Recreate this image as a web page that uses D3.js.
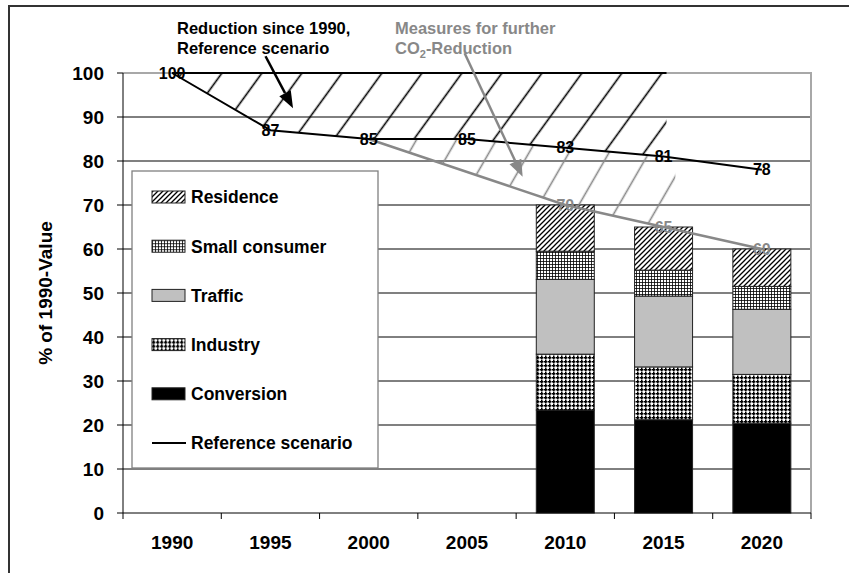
<!DOCTYPE html>
<meta charset="utf-8">
<style>
  html, body { margin: 0; padding: 0; background: #fff; overflow: hidden; }
  svg { display: block; font-family: "Liberation Sans", Arial, sans-serif; font-weight: bold; }
</style>
<body>
<script src="https://cdn.jsdelivr.net/npm/d3@7/dist/d3.min.js"></script>
<script>

  // ---- data ----
  var years = ["1990", "1995", "2000", "2005", "2010", "2015", "2020"];
  var refScenario = [100, 87, 85, 85, 83, 81, 78];
  var measureYears = ["2000", "2010", "2015", "2020"];
  var measureValues = [85, 70, 65, 60];

  var barYears = ["2010", "2015", "2020"];
  var sectors = ["Conversion", "Industry", "Traffic", "Small consumer", "Residence"];
  var conversion    = [23.4, 21.2, 20.4];
  var industry      = [12.7, 12.0, 11.1];
  var traffic       = [17.0, 16.1, 14.8];
  var smallConsumer = [6.4, 5.9, 5.2];
  var residence     = [10.5, 9.8, 8.5];

  var yTicks = [0, 10, 20, 30, 40, 50, 60, 70, 80, 90, 100];
  var legendItems = ["Residence", "Small consumer", "Traffic", "Industry", "Conversion", "Reference scenario"];

  var width = 849, height = 573;
  var plotL = 123, plotR = 811, plotT = 73, plotB = 513;

  var svg = d3.select("body").append("svg")
      .attr("width", width)
      .attr("height", height);

  var x = d3.scaleBand().domain(years).range([plotL, plotR])
      .paddingInner(0.41).paddingOuter(0.205);
  var y = d3.scaleLinear().domain([0, 100]).range([plotB, plotT]);
  var cx = function(d) { return x(d) + x.bandwidth() / 2; };
  // continuous year scale, for the annotation shapes
  var xYear = d3.scaleLinear().domain([1990, 2020]).range([cx("1990"), cx("2020")]);

  /* patterns */
  var defs = svg.append("defs");

  var p = defs.append("pattern").attr("id", "pRes")
      .attr("patternUnits", "userSpaceOnUse").attr("width", 5).attr("height", 5);
  p.append("rect").attr("width", 5).attr("height", 5).attr("fill", "#fff");
  p.append("path").attr("d", "M-1,1 l2,-2 M0,5 l5,-5 M4,6 l2,-2")
      .attr("stroke", "#000").attr("stroke-width", 1.3);

  p = defs.append("pattern").attr("id", "pSmall")
      .attr("patternUnits", "userSpaceOnUse").attr("width", 3).attr("height", 3);
  p.append("rect").attr("width", 3).attr("height", 3).attr("fill", "#fff");
  p.append("path").attr("d", "M0,0.5 H3 M0.5,0 V3")
      .attr("stroke", "#000").attr("stroke-width", 0.8);

  p = defs.append("pattern").attr("id", "pInd")
      .attr("patternUnits", "userSpaceOnUse").attr("width", 4).attr("height", 4);
  p.append("rect").attr("width", 4).attr("height", 4).attr("fill", "#fff");
  p.append("path").attr("d", "M1,0 h1.5 v1 h1 v1.5 h-1 v1 h-1.5 v-1 h-1 v-1.5 h1 z").attr("fill", "#000");

  var fills = {
    "Residence": "url(#pRes)",
    "Small consumer": "url(#pSmall)",
    "Traffic": "#c0c0c0",
    "Industry": "url(#pInd)",
    "Conversion": "#000"
  };

  function hatch(id, color, spacing, angle, px, py) {
    var h = defs.append("pattern").attr("id", id)
        .attr("patternUnits", "userSpaceOnUse")
        .attr("width", spacing).attr("height", 400)
        .attr("patternTransform", "translate(" + px + "," + py + ") rotate(" + angle + ") translate(" + (-spacing / 2) + ",0)");
    h.append("line").attr("x1", spacing / 2).attr("x2", spacing / 2)
        .attr("y1", 0).attr("y2", 400)
        .attr("stroke", color).attr("stroke-width", 1.6);
  }
  hatch("hBlack", "#000", 40 * Math.cos(36 * Math.PI / 180), 36, 222, 73);
  hatch("hGrey", "#888", 40 * Math.cos(30 * Math.PI / 180), 30, 675, 177);

  /* outer frame */
  svg.append("path").attr("d", "M9,573 V6 H849")
      .attr("fill", "none").attr("stroke", "#333").attr("stroke-width", 2);

  /* gridlines */
  svg.append("g").selectAll("line")
      .data(yTicks.filter(function(d) { return d > 0 && d < 100; }))
      .enter().append("line")
      .attr("x1", plotL).attr("x2", plotR)
      .attr("y1", d => y(d)).attr("y2", d => y(d))
      .attr("stroke", d => (d % 30 == 20) ? "#808080" : "#000")
      .attr("stroke-width", d => (d % 30 == 20) ? 2 : 1);

  // plot area border top/right
  svg.append("path")
      .attr("d", "M" + plotL + "," + y(100) + " H" + plotR + " V" + y(0))
      .attr("fill", "none").attr("stroke", "#a8a8a8").attr("stroke-width", 2);

  /* stacked bars */
  var table = barYears.map(function(yr, i) {
    return { year: yr, "Conversion": conversion[i], "Industry": industry[i], "Traffic": traffic[i],
             "Small consumer": smallConsumer[i], "Residence": residence[i] };
  });
  var stack = d3.stack().keys(sectors)(table);

  svg.append("g").selectAll("g")
      .data(stack)
      .enter().append("g")
      .attr("fill", d => fills[d.key])
      .selectAll("rect")
      .data(d => d)
      .enter().append("rect")
      .attr("x", d => x(d.data.year))
      .attr("width", x.bandwidth())
      .attr("y", d => y(d[1]))
      .attr("height", d => y(d[0]) - y(d[1]))
      .attr("stroke", "#222")
      .attr("stroke-width", 1);

  /* hatched reduction areas */
  function valueAt(yrs, vals, t) {
    for (var i = 0; i < yrs.length - 1; i++) {
      var a = +yrs[i], b = +yrs[i + 1];
      if (t >= a && t <= b) return vals[i] + (vals[i + 1] - vals[i]) * (t - a) / (b - a);
    }
    return vals[vals.length - 1];
  }
  var blackEnd = 2015.15, greyEnd = 2015.6;

  var refPts = years.map(function(d, i) { return [+d, refScenario[i]]; });
  var blackPoly = [[1990, 100], [blackEnd, 100], [blackEnd, valueAt(years, refScenario, blackEnd)]]
      .concat(refPts.filter(d => d[0] <= blackEnd).reverse());
  var greyTop = refPts.filter(d => d[0] >= 2000 && d[0] <= greyEnd)
      .concat([[greyEnd, valueAt(years, refScenario, greyEnd)]]);
  var greyBottom = [[greyEnd, valueAt(measureYears, measureValues, greyEnd)]]
      .concat(measureYears.map((d, i) => [+d, measureValues[i]]).filter(d => d[0] <= greyEnd).reverse());

  var poly = d3.line().x(d => xYear(d[0])).y(d => y(d[1]));
  svg.append("path").attr("d", poly(blackPoly) + "Z").attr("fill", "url(#hBlack)");
  svg.append("path").attr("d", poly(greyTop.concat(greyBottom)) + "Z").attr("fill", "url(#hGrey)");

  // top edge at 100
  svg.append("line")
      .attr("x1", xYear(1990)).attr("x2", xYear(blackEnd))
      .attr("y1", y(100)).attr("y2", y(100))
      .attr("stroke", "#000").attr("stroke-width", 2);

  /* lines */
  var line = d3.line().x(d => cx(d[0])).y(d => y(d[1]));
  svg.append("path")
      .attr("d", line(measureYears.map((d, i) => [d, measureValues[i]])))
      .attr("fill", "none").attr("stroke", "#888").attr("stroke-width", 2.5);
  svg.append("path")
      .attr("d", line(years.map((d, i) => [d, refScenario[i]])))
      .attr("fill", "none").attr("stroke", "#000").attr("stroke-width", 2);

  /* value labels */
  svg.append("g").selectAll("text")
      .data(years)
      .enter().append("text")
      .attr("x", d => cx(d)).attr("y", (d, i) => y(refScenario[i]))
      .attr("dy", "0.35em").attr("text-anchor", "middle")
      .attr("font-size", 16).attr("fill", "#000")
      .text((d, i) => refScenario[i]);
  svg.append("g").selectAll("text")
      .data(measureYears.slice(1))
      .enter().append("text")
      .attr("x", d => cx(d)).attr("y", (d, i) => y(measureValues[i + 1]))
      .attr("dy", "0.35em").attr("text-anchor", "middle")
      .attr("font-size", 16).attr("fill", "#888")
      .text((d, i) => measureValues[i + 1]);

  /* axes */
  svg.append("line").attr("x1", plotL).attr("x2", plotL).attr("y1", y(100)).attr("y2", y(0))
      .attr("stroke", "#000");
  svg.append("line").attr("x1", plotL).attr("x2", plotR).attr("y1", y(0)).attr("y2", y(0))
      .attr("stroke", "#000");

  var yAxis = svg.append("g");
  yAxis.selectAll("line").data(yTicks).enter().append("line")
      .attr("x1", plotL - 6).attr("x2", plotL)
      .attr("y1", d => y(d)).attr("y2", d => y(d))
      .attr("stroke", "#000");
  yAxis.selectAll("text").data(yTicks).enter().append("text")
      .attr("x", plotL - 19).attr("y", d => y(d))
      .attr("dy", "0.36em").attr("text-anchor", "end")
      .attr("font-size", 19)
      .text(d => d);

  var xAxis = svg.append("g");
  var step = x.step();
  xAxis.selectAll("line").data(d3.range(years.length + 1)).enter().append("line")
      .attr("x1", d => plotL + d * step).attr("x2", d => plotL + d * step)
      .attr("y1", y(0)).attr("y2", y(0) + 6)
      .attr("stroke", "#000");
  xAxis.selectAll("text").data(years).enter().append("text")
      .attr("x", d => cx(d)).attr("y", 549)
      .attr("text-anchor", "middle")
      .attr("font-size", 19)
      .text(d => d);

  svg.append("text")
      .attr("transform", "translate(52," + ((plotT + plotB) / 2) + ") rotate(-90)")
      .attr("text-anchor", "middle")
      .attr("font-size", 19)
      .text("% of 1990-Value");

  /* annotations */
  function arrow(x1, y1, x2, y2, color) {
    var ang = Math.atan2(y2 - y1, x2 - x1);
    var len = 17, half = 6.5;
    var bx = x2 - len * Math.cos(ang), by = y2 - len * Math.sin(ang);
    svg.append("line")
        .attr("x1", x1).attr("y1", y1).attr("x2", bx).attr("y2", by)
        .attr("stroke", color).attr("stroke-width", 2.5);
    svg.append("path")
        .attr("d", "M" + x2 + "," + y2 +
              "L" + (bx - half * Math.sin(ang)) + "," + (by + half * Math.cos(ang)) +
              "L" + (bx + half * Math.sin(ang)) + "," + (by - half * Math.cos(ang)) + "Z")
        .attr("fill", color);
  }
  arrow(xYear(1994.75), y(103.8), xYear(1996.15), y(92.0), "#000");
  arrow(xYear(2004.88), y(104.5), xYear(2007.83), y(76.4), "#888");

  var note1 = svg.append("text").attr("font-size", 16.5).attr("fill", "#000");
  note1.append("tspan").attr("x", 177).attr("y", 34).text("Reduction since 1990,");
  note1.append("tspan").attr("x", 177).attr("y", 54).text("Reference scenario");

  var note2 = svg.append("text").attr("font-size", 16.5).attr("fill", "#888");
  note2.append("tspan").attr("x", 395).attr("y", 34).text("Measures for further");
  var l2 = note2.append("tspan").attr("x", 395).attr("y", 54);
  l2.append("tspan").text("CO");
  l2.append("tspan").attr("font-size", 11).attr("dy", 4).text("2");
  l2.append("tspan").attr("dy", -4).text("-Reduction");

  /* legend */
  var legend = svg.append("g");
  legend.append("rect")
      .attr("x", 132).attr("y", 171).attr("width", 246).attr("height", 297)
      .attr("fill", "#fff").attr("stroke", "#808080").attr("stroke-width", 1.3);

  var item = legend.selectAll("g.item").data(legendItems)
      .enter().append("g").attr("class", "item")
      .attr("transform", (d, i) => "translate(152," + (197 + i * 49.2) + ")");
  item.filter(d => d != "Reference scenario").append("rect")
      .attr("x", 0).attr("y", -6).attr("width", 33).attr("height", 12)
      .attr("fill", d => fills[d]).attr("stroke", "#222").attr("stroke-width", 1);
  item.filter(d => d == "Reference scenario").append("line")
      .attr("x1", 0).attr("x2", 34).attr("y1", 0).attr("y2", 0)
      .attr("stroke", "#000").attr("stroke-width", 2);
  item.append("text")
      .attr("x", 39).attr("dy", "0.36em")
      .attr("font-size", 17.5)
      .text(d => d);

</script>
</body>
